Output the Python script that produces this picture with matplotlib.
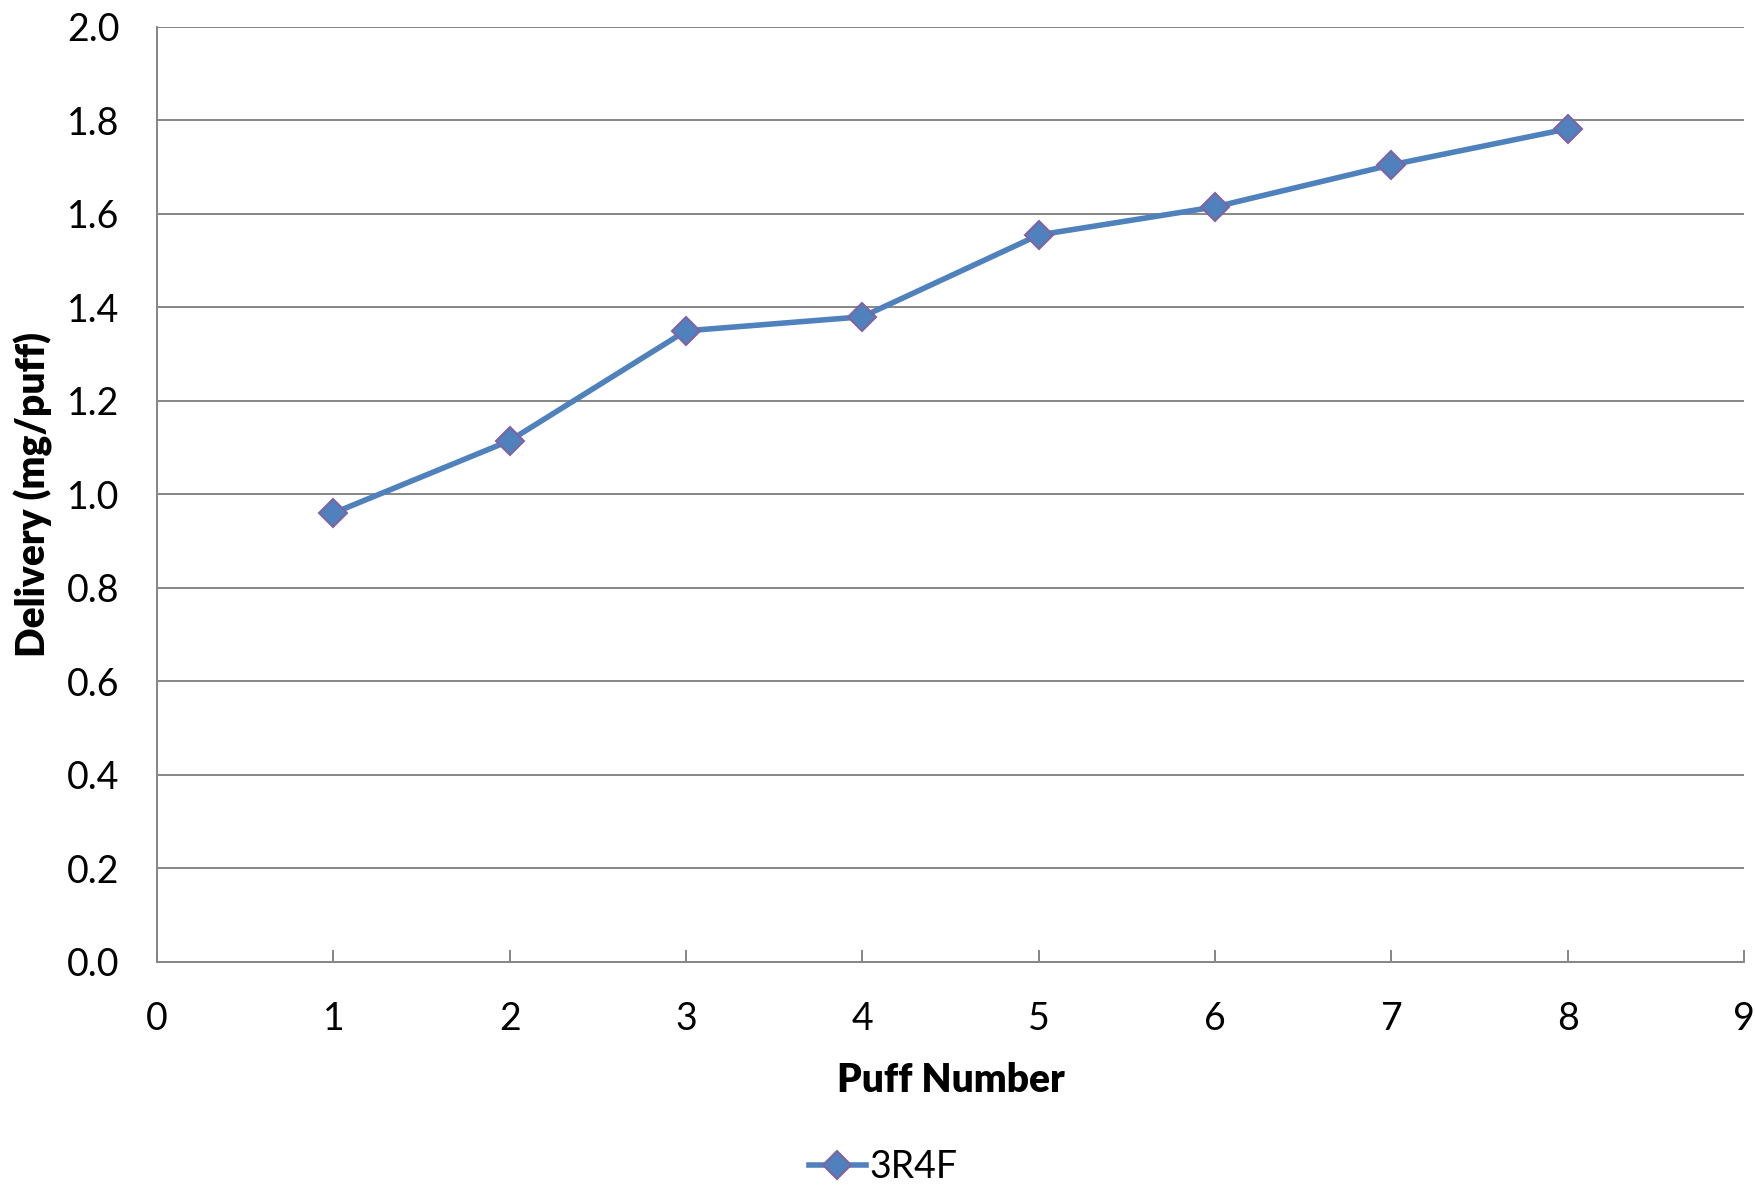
import matplotlib.pyplot as plt

plt.rcParams['font.family'] = ['Lato', 'DejaVu Sans']

puffs = [1, 2, 3, 4, 5, 6, 7, 8]
delivery = [0.96, 1.115, 1.35, 1.38, 1.555, 1.615, 1.705, 1.782]
series_name = "3R4F"

grid_col = "#868686"
line_col = "#4F81BD"
edge_col = "#8064A2"

fig = plt.figure(figsize=(17.56, 11.87), dpi=100)
ax = fig.add_axes([0.0894, 0.1896, 0.9038, 0.7877])

ax.plot(puffs, delivery, color=line_col, lw=4, marker='D', markersize=14,
        markerfacecolor=line_col, markeredgecolor=edge_col, markeredgewidth=1.5,
        label=series_name, zorder=3, clip_on=False)

ax.set_xlim(0, 9)
ax.set_ylim(0, 2.0)
ax.set_xticks(range(0, 10))
ax.set_yticks([i / 5 for i in range(11)])
ax.set_yticklabels([f"{i / 5:.1f}" for i in range(11)])

ax.grid(axis='y', color=grid_col, lw=1.4)
ax.set_axisbelow(True)
for side in ['top', 'right']:
    ax.spines[side].set_visible(False)
for side in ['left', 'bottom']:
    ax.spines[side].set_color(grid_col)
    ax.spines[side].set_linewidth(1.4)

ax.tick_params(axis='x', direction='in', length=9, width=1.4, color=grid_col,
               labelsize=27, pad=28)
ax.tick_params(axis='y', length=0, labelsize=27, pad=27)

ax.set_xlabel("Puff Number", fontsize=28, fontweight='heavy', labelpad=18)
ax.set_ylabel("Delivery (mg/puff)", fontsize=28, fontweight='heavy', labelpad=10)

fig.legend(loc='center', bbox_to_anchor=(0.503, 0.017), frameon=False,
           fontsize=27, handlelength=1.5, handletextpad=0.1)

fig.savefig("out.png", dpi=100, facecolor='white')
